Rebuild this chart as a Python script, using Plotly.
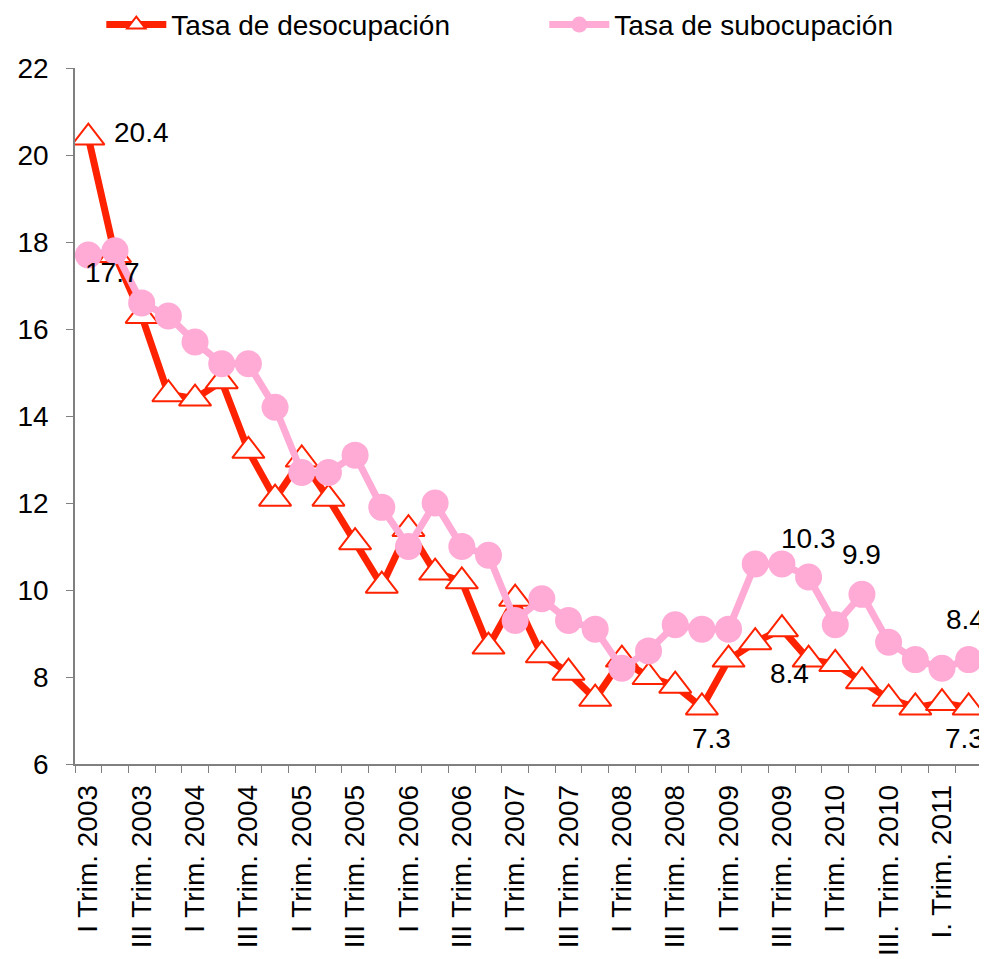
import plotly.graph_objects as go

roman = ["I", "II", "III", "IV"]
categories = []
for year in range(2003, 2011):
    for q in roman:
        if year == 2010 and q == "III":
            categories.append("III. Trim. 2010")
        else:
            categories.append(f"{q} Trim. {year}")
categories += ["I. Trim. 2011", "II. Trim. 2011"]

desocupacion = [20.4, 17.7, 16.3, 14.5, 14.4, 14.8, 13.2, 12.1, 13.0, 12.1, 11.1, 10.1,
                11.4, 10.4, 10.2, 8.7, 9.8, 8.5, 8.1, 7.5, 8.4, 8.0, 7.8, 7.3,
                8.4, 8.8, 9.1, 8.4, 8.3, 7.9, 7.5, 7.3, 7.4, 7.3]
subocupacion = [17.7, 17.8, 16.6, 16.3, 15.7, 15.2, 15.2, 14.2, 12.7, 12.7, 13.1, 11.9,
                11.0, 12.0, 11.0, 10.8, 9.3, 9.8, 9.3, 9.1, 8.2, 8.6, 9.2, 9.1,
                9.1, 10.6, 10.6, 10.3, 9.2, 9.9, 8.8, 8.4, 8.2, 8.4]

tick_text = [c if i % 2 == 0 else "" for i, c in enumerate(categories)]

# labelled points: (index, xshift, yshift)
labels_desoc = [(0, 53, 5), (1, -3, -17), (23, 10, -31), (27, -19, -14), (33, -4, -31)]
labels_sub = [(27, 0, 38), (29, 0, 40), (33, -3, 40)]

RED = "#FF2200"
PINK = "#FFABD6"
FONT = "Liberation Sans, Arial, sans-serif"
FS = 28

fig = go.Figure()
fig.add_trace(go.Scatter(
    x=categories, y=desocupacion, name="Tasa de desocupación",
    mode="lines+markers",
    line=dict(color=RED, width=7),
    marker=dict(symbol="triangle-up", size=28, color="white",
                line=dict(color=RED, width=2)),
))
fig.add_trace(go.Scatter(
    x=categories, y=subocupacion, name="Tasa de subocupación",
    mode="lines+markers",
    line=dict(color=PINK, width=7),
    marker=dict(symbol="circle", size=27, color=PINK),
))

for idx, dx, dy in labels_desoc:
    fig.add_annotation(x=categories[idx], y=desocupacion[idx], text=f"{desocupacion[idx]:.1f}",
                       showarrow=False, xshift=dx, yshift=dy,
                       font=dict(size=FS, color="black", family=FONT))
for idx, dx, dy in labels_sub:
    fig.add_annotation(x=categories[idx], y=subocupacion[idx], text=f"{subocupacion[idx]:.1f}",
                       showarrow=False, xshift=dx, yshift=dy,
                       font=dict(size=FS, color="black", family=FONT))

fig.update_layout(
    width=979, height=951,
    margin=dict(l=67, r=5, t=60, b=195, autoexpand=False),
    paper_bgcolor="white", plot_bgcolor="white",
    font=dict(family=FONT, size=FS, color="black"),
    showlegend=True,
    legend=dict(orientation="h", x=0.029, y=1.062, xanchor="left", yanchor="middle",
                entrywidth=368, entrywidthmode="pixels",
                font=dict(size=FS, color="black", family=FONT),
                bgcolor="rgba(0,0,0,0)", itemwidth=60),
    xaxis=dict(
        type="category", categoryorder="array", categoryarray=categories,
        tickvals=categories, ticktext=tick_text, tickangle=-90,
        tickson="boundaries", ticks="outside", ticklen=7, tickcolor="#808080",
        showline=True, linecolor="#808080", linewidth=1.5,
        showgrid=False, zeroline=False, automargin=False,
        tickfont=dict(size=FS, color="black", family=FONT),
        ticklabelstandoff=8,
        range=[-0.5, 33.5],
    ),
    yaxis=dict(
        range=[6, 22], tickvals=[6, 8, 10, 12, 14, 16, 18, 20, 22],
        ticks="outside", ticklen=7, tickcolor="#808080",
        showline=True, linecolor="#808080", linewidth=1.5,
        showgrid=False, zeroline=False, automargin=False,
        tickfont=dict(size=FS, color="black", family=FONT),
        ticklabelstandoff=12,
    ),
)

fig.write_html("out.html")
